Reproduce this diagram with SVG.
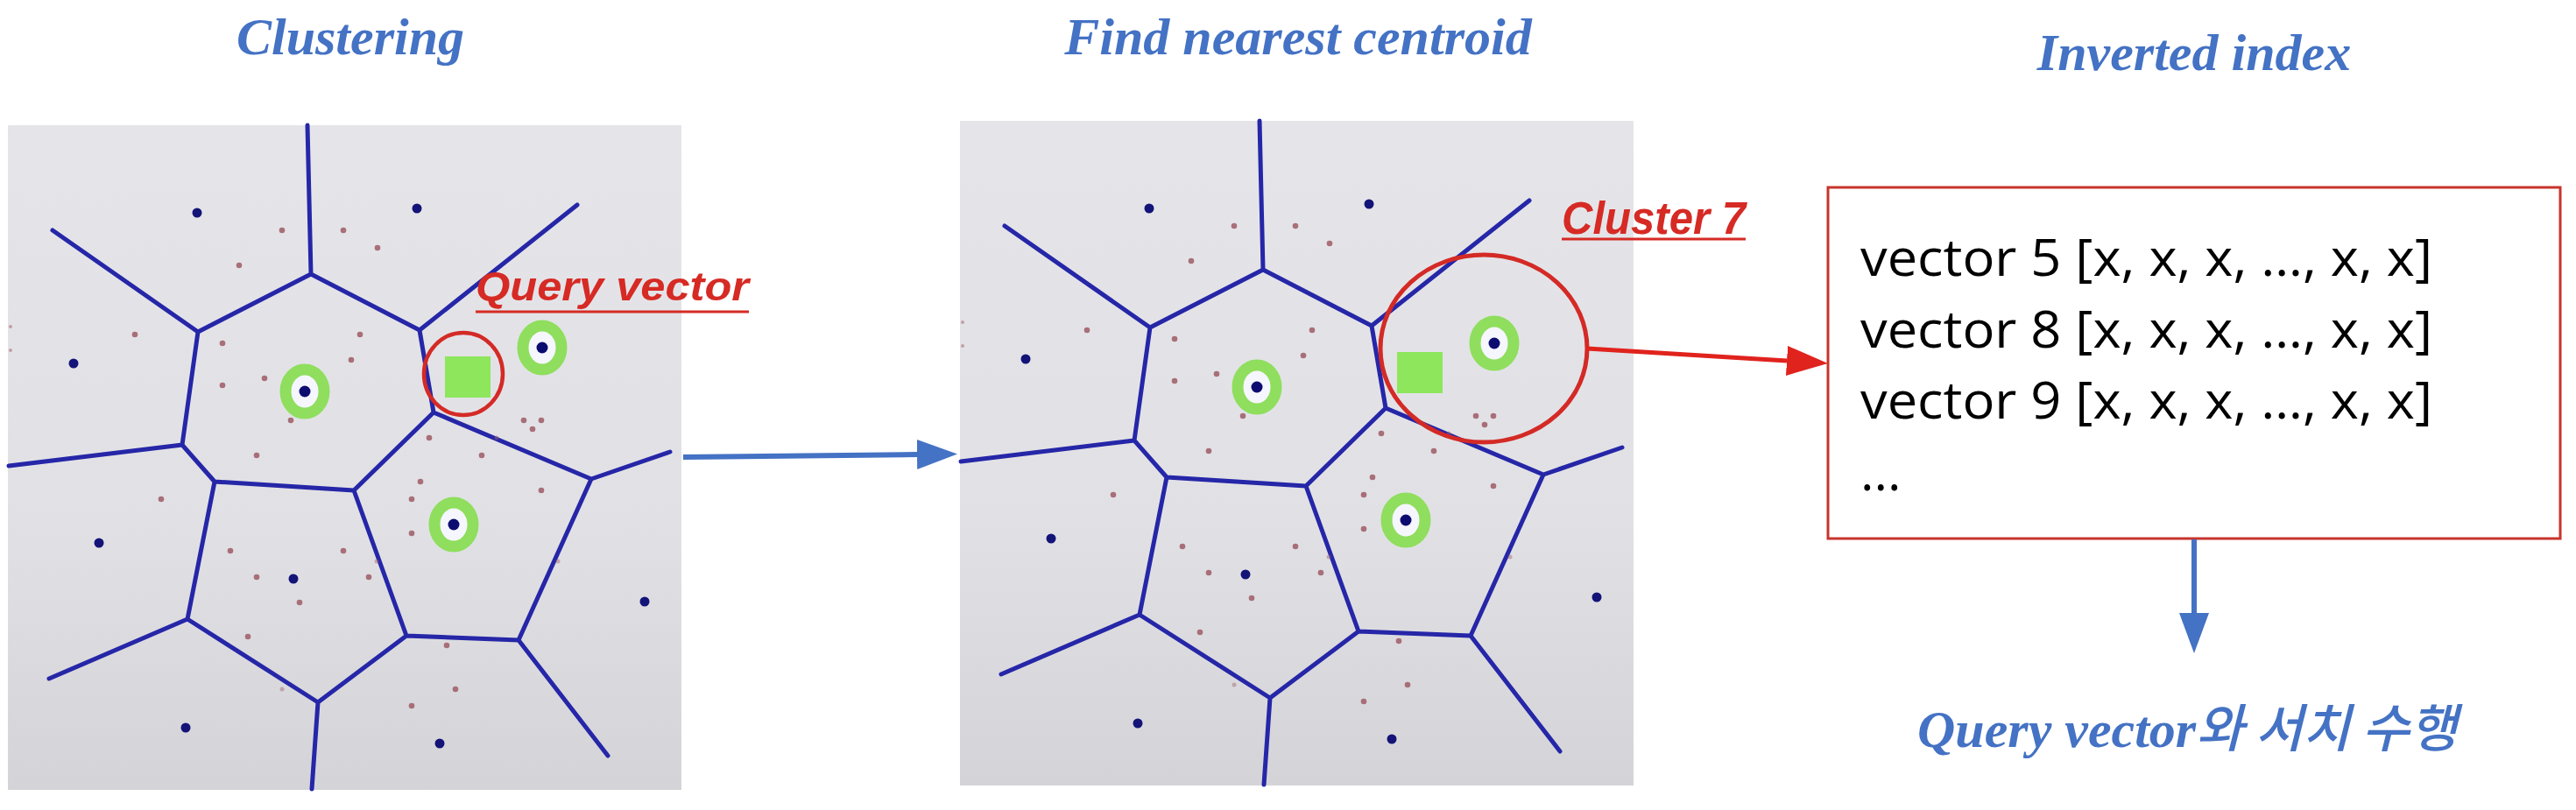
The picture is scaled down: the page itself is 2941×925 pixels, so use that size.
<svg xmlns="http://www.w3.org/2000/svg" xmlns:xlink="http://www.w3.org/1999/xlink" width="2941" height="925" viewBox="0 0 2941 925">
<style>
.title{font-family:"Liberation Serif","Times New Roman",serif;font-weight:bold;font-style:italic;font-size:60px;fill:#4472c4}
.redlbl{font-family:"Liberation Sans",Arial,sans-serif;font-weight:bold;font-style:italic;fill:#d62a24}
.vline{stroke:#2626a8;stroke-width:5;fill:none;stroke-linecap:round;stroke-linejoin:round}
.bdot{fill:#131378}
.rdot{fill:#a2626c;opacity:0.9}
.ring{fill:#f6f6ff;stroke:#8fde5e;stroke-width:13}
.ctr{fill:#0c0c70}
.sq{fill:#8de65c}
.box{fill:#ffffff;stroke:#c8342c;stroke-width:3}
.boxtxt{font-family:"Open Sans","Noto Sans",sans-serif;font-size:59px;fill:#000000}
</style>
<defs>
<linearGradient id="bg" x1="0" y1="0" x2="0" y2="1">
<stop offset="0" stop-color="#e5e5e9"/>
<stop offset="0.6" stop-color="#e1e1e5"/>
<stop offset="1" stop-color="#d4d4d8"/>
</linearGradient>
<marker id="headBlue" markerUnits="userSpaceOnUse" markerWidth="46" markerHeight="34" refX="0" refY="17" orient="auto">
<path d="M0,0 L46,17 L0,34 z" fill="#4472c4"/>
</marker>
<marker id="headRed" markerUnits="userSpaceOnUse" markerWidth="47" markerHeight="34" refX="0" refY="17" orient="auto">
<path d="M0,0 L47,17 L0,34 z" fill="#e0231d"/>
</marker>
<g id="voronoi">
<rect x="9" y="143" width="769" height="759" fill="url(#bg)"/>
<path class="vline" d="M351,143 L355,313 M355,313 L226,379 M355,313 L479,377 M226,379 L60,263 M479,377 L659,234 M226,379 L208,508 M208,508 L10,532 M208,508 L245,550 M479,377 L495,471 M495,471 L404,560 M245,550 L404,560 M495,471 L675,547 M675,547 L765,516 M245,550 L214,707 M214,707 L56,775 M214,707 L363,802 M363,802 L356,901 M404,560 L464,726 M363,802 L464,726 M464,726 L592,731 M675,547 L592,731 M592,731 L694,863"/>
<g class="rdot">
<circle cx="322" cy="263" r="3.3"/><circle cx="392" cy="263" r="3.3"/><circle cx="431" cy="283" r="3.3"/><circle cx="273" cy="303" r="3.3"/>
<circle cx="154" cy="382" r="3.3"/><circle cx="254" cy="392" r="3.3"/><circle cx="411" cy="382" r="3.3"/><circle cx="401" cy="411" r="3.3"/>
<circle cx="302" cy="432" r="3.3"/><circle cx="254" cy="440" r="3.3"/><circle cx="332" cy="480" r="3.3"/><circle cx="293" cy="520" r="3.3"/>
<circle cx="490" cy="500" r="3.3"/><circle cx="550" cy="520" r="3.3"/><circle cx="598" cy="480" r="3.3"/><circle cx="618" cy="480" r="3.3"/>
<circle cx="608" cy="490" r="3.3"/><circle cx="480" cy="550" r="3.3"/><circle cx="470" cy="570" r="3.3"/><circle cx="470" cy="609" r="3.3"/>
<circle cx="618" cy="560" r="3.3"/><circle cx="184" cy="570" r="3.3"/><circle cx="263" cy="629" r="3.3"/><circle cx="392" cy="629" r="3.3"/>
<circle cx="293" cy="659" r="3.3"/><circle cx="421" cy="659" r="3.3"/><circle cx="342" cy="688" r="3.3"/><circle cx="283" cy="727" r="3.3"/>
<circle cx="510" cy="737" r="3.3"/><circle cx="520" cy="787" r="3.3"/><circle cx="470" cy="806" r="3.3"/>
<circle cx="322" cy="787" r="2.5" opacity="0.5"/><circle cx="637" cy="641" r="2.5" opacity="0.5"/><circle cx="430" cy="641" r="2.5" opacity="0.5"/><circle cx="567" cy="500" r="2.5" opacity="0.5"/>
<circle cx="12" cy="373" r="2" opacity="0.6"/><circle cx="12" cy="400" r="2" opacity="0.6"/>
</g>
<g class="bdot">
<circle cx="225" cy="243" r="5.5"/><circle cx="476" cy="238" r="5.5"/><circle cx="84" cy="415" r="5.5"/><circle cx="113" cy="620" r="5.5"/>
<circle cx="335" cy="661" r="5.5"/><circle cx="736" cy="687" r="5.5"/><circle cx="212" cy="831" r="5.5"/><circle cx="502" cy="849" r="5.5"/>
</g>
<ellipse class="ring" cx="348" cy="447" rx="22" ry="25"/><circle class="ctr" cx="348" cy="447" r="6.5"/>
<ellipse class="ring" cx="619" cy="397" rx="22" ry="25"/><circle class="ctr" cx="619" cy="397" r="6.5"/>
<ellipse class="ring" cx="518" cy="599" rx="22" ry="25"/><circle class="ctr" cx="518" cy="599" r="6.5"/>
<rect class="sq" x="508" y="407" width="52" height="47"/>
</g>
</defs>

<g id="titles">
<text class="title" x="400" y="62" text-anchor="middle">Clustering</text>
<text class="title" x="1482" y="62" text-anchor="middle">Find nearest centroid</text>
<text class="title" x="2505" y="80" text-anchor="middle">Inverted index</text>
</g>

<g id="panel-clustering">
<use xlink:href="#voronoi" href="#voronoi"/>
<ellipse cx="529" cy="427" rx="45" ry="47" fill="none" stroke="#d42a26" stroke-width="4.5"/>
<text class="redlbl" x="543" y="343" font-size="47" textLength="312" lengthAdjust="spacingAndGlyphs">Query vector</text>
<line x1="543" y1="356" x2="855" y2="356" stroke="#d62a24" stroke-width="3"/>
</g>

<g id="panel-centroid">
<use xlink:href="#voronoi" href="#voronoi" transform="translate(1087,-5)"/>
<ellipse cx="1694" cy="398" rx="118" ry="107" fill="none" stroke="#d42a26" stroke-width="5"/>
<text class="redlbl" x="1783" y="267" font-size="51" textLength="210" lengthAdjust="spacingAndGlyphs">Cluster 7</text>
<line x1="1783" y1="273" x2="1993" y2="273" stroke="#d62a24" stroke-width="3"/>
</g>

<g id="inverted-index">
<rect class="box" x="2087" y="214" width="836" height="401"/>
<text class="boxtxt" x="2124" y="315" textLength="653" lengthAdjust="spacingAndGlyphs">vector 5 [x, x, x, …, x, x]</text>
<text class="boxtxt" x="2124" y="397" textLength="653" lengthAdjust="spacingAndGlyphs">vector 8 [x, x, x, …, x, x]</text>
<text class="boxtxt" x="2124" y="478" textLength="653" lengthAdjust="spacingAndGlyphs">vector 9 [x, x, x, …, x, x]</text>
<text class="boxtxt" x="2124" y="560">...</text>
</g>

<g id="result">
<text x="2189" y="853" font-family="'Liberation Serif','Times New Roman',serif" font-weight="bold" font-style="italic" font-size="60" fill="#4472c4">Query vector<tspan font-family="'Noto Sans CJK KR',sans-serif" font-weight="500" font-size="59">와 서치 수행</tspan></text>
</g>

<g id="connectors">
<line x1="780" y1="522" x2="1047" y2="519" stroke="#4472c4" stroke-width="6" marker-end="url(#headBlue)"/>
<line x1="1812" y1="398" x2="2040" y2="412" stroke="#e0231d" stroke-width="5" marker-end="url(#headRed)"/>
<line x1="2505" y1="616" x2="2505" y2="700" stroke="#4472c4" stroke-width="6" marker-end="url(#headBlue)"/>
</g>
</svg>
